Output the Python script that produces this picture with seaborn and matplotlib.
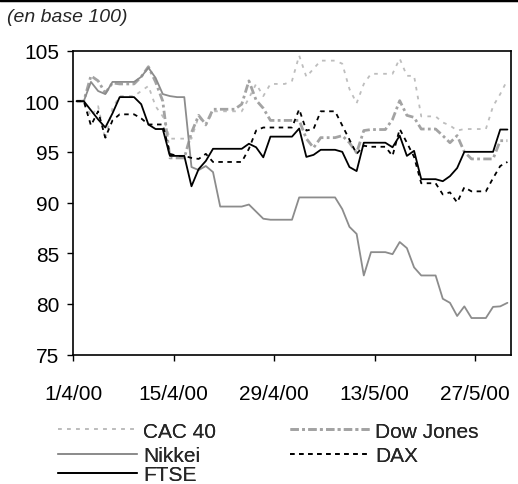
import matplotlib
matplotlib.use("Agg")
from matplotlib import pyplot as plt
from matplotlib.lines import Line2D
import pandas as pd
import seaborn as sns

# jours calendaires (week-ends = valeur reportee)
dates = pd.date_range("2000-04-01", "2000-05-31", freq="D")

cac40 = [100, 100, 98.5, 99.5, 96.2, 99.3, 100.5, 100.5, 100.5, 101.0,
         101.5, 99.5, 98.5, 96.3, 96.3, 96.3, 96.3, 98.5, 97.6, 99.0,
         99.0, 99.0, 99.0, 99.0, 100.3, 101.7, 100.5, 101.7, 101.7, 101.7,
         102.0, 104.5, 102.4, 103.2, 104.0, 104.0, 104.0, 103.7, 101.2, 99.8,
         101.7, 102.7, 102.7, 102.7, 102.7, 104.2, 102.5, 102.5, 98.5, 98.5,
         98.5, 97.9, 97.6, 97.1, 97.25, 97.25, 97.25, 97.25, 99.5, 100.7,
         102.1]
dow_jones = [100, 100, 102.5, 102.0, 100.8, 101.8, 101.7, 101.7, 101.7, 102.4,
             103.4, 101.9, 100.0, 94.4, 94.4, 94.4, 96.9, 98.6, 97.7, 99.2,
             99.2, 99.2, 99.2, 99.7, 102.0, 100.1, 99.3, 98.1, 98.1, 98.1,
             98.1, 98.1, 96.3, 95.4, 96.4, 96.4, 96.4, 96.6, 95.9, 94.9,
             97.1, 97.2, 97.2, 97.2, 98.2, 100.05, 98.6, 98.4, 97.25, 97.25,
             97.25, 96.6, 95.9, 96.6, 95.0, 94.3, 94.3, 94.3, 94.3, 96.1,
             96.1]
nikkei = [100, 100, 101.9, 101.0, 100.7, 101.9, 101.9, 101.9, 101.9, 102.4,
          103.3, 102.3, 100.7, 100.5, 100.4, 100.4, 93.5, 93.2, 93.6, 93.0,
          89.6, 89.6, 89.6, 89.6, 89.8, 89.1, 88.4, 88.3, 88.3, 88.3,
          88.3, 90.5, 90.5, 90.5, 90.5, 90.5, 90.5, 89.35, 87.6, 86.9,
          82.8, 85.1, 85.1, 85.1, 84.9, 86.1, 85.5, 83.6, 82.8, 82.8,
          82.8, 80.5, 80.1, 78.8, 79.75, 78.6, 78.6, 78.6, 79.7, 79.75,
          80.1]
dax = [100, 100, 97.6, 99.0, 96.4, 98.1, 98.7, 98.7, 98.7, 98.3,
       97.7, 97.7, 97.7, 94.8, 94.6, 94.6, 94.4, 94.3, 94.8, 94.0,
       94.0, 94.0, 94.0, 94.0, 95.3, 97.1, 97.4, 97.4, 97.4, 97.4,
       97.4, 99.2, 97.1, 97.25, 99.0, 99.0, 99.0, 97.6, 96.2, 94.8,
       95.6, 95.5, 95.5, 95.5, 94.6, 97.25, 95.9, 94.5, 91.9, 91.9,
       91.9, 90.8, 91.0, 90.0, 91.5, 91.1, 91.1, 91.1, 92.4, 93.6,
       94.0]
ftse = [100, 100, 99.1, 98.2, 97.4, 98.8, 100.4, 100.4, 100.4, 99.7,
        97.7, 97.25, 97.25, 94.6, 94.6, 94.6, 91.6, 93.3, 94.1, 95.3,
        95.3, 95.3, 95.3, 95.3, 95.8, 95.45, 94.46, 96.5, 96.5, 96.5,
        96.5, 97.3, 94.5, 94.7, 95.2, 95.2, 95.2, 95.0, 93.5, 93.1,
        95.9, 95.9, 95.9, 95.9, 95.45, 96.6, 94.6, 95.1, 92.3, 92.3,
        92.3, 92.1, 92.6, 93.4, 95.0, 95.0, 95.0, 95.0, 95.0, 97.2,
        97.2]

indices = ["CAC 40", "Dow Jones", "Nikkei", "DAX", "FTSE"]
tick_dates = ["2000-04-01", "2000-04-15", "2000-04-29", "2000-05-13", "2000-05-27"]
tick_labels = ["1/4/00", "15/4/00", "29/4/00", "13/5/00", "27/5/00"]
y_ticks = [75, 80, 85, 90, 95, 100, 105]

palette = {"CAC 40": "#bdbdbd", "Dow Jones": "#a3a3a3", "Nikkei": "#8c8c8c",
           "DAX": "black", "FTSE": "black"}
dashes = {"CAC 40": (2, 3), "Dow Jones": (3, 1.2, 1, 1.2), "Nikkei": "",
          "DAX": (2.5, 2.5), "FTSE": ""}

sns.set_style("ticks")
plt.rcParams["font.family"] = ["Liberation Sans", "DejaVu Sans"]

df = pd.DataFrame({"date": dates + pd.Timedelta(hours=12),
                   "CAC 40": cac40, "Dow Jones": dow_jones, "Nikkei": nikkei,
                   "DAX": dax, "FTSE": ftse})
df = df.melt(id_vars="date", var_name="indice", value_name="valeur")

fig = plt.figure(figsize=(5.18, 4.85), dpi=100)
ax = fig.add_axes([73 / 518, 1 - 355.5 / 485, 438 / 518, 304 / 485])

sns.lineplot(data=df, x="date", y="valeur", hue="indice", style="indice",
             hue_order=indices, style_order=indices, palette=palette,
             dashes=dashes, legend=False, ax=ax, lw=1.3)
lines = ax.get_lines()
lines[1].set_linewidth(2.0)

ax.set_xlim(pd.Timestamp("2000-04-01"), pd.Timestamp("2000-06-01"))
ax.set_ylim(75, 105)
ax.set_yticks(y_ticks)
ax.set_xticks(pd.to_datetime(tick_dates))
ax.set_xticklabels(tick_labels)
ax.set_xlabel("")
ax.set_ylabel("")
for side in ["left", "right", "top", "bottom"]:
    ax.spines[side].set_visible(True)
    ax.spines[side].set_color("black")
    ax.spines[side].set_linewidth(1.2)
ax.tick_params(axis="both", direction="out", length=4, width=1, colors="black",
               labelsize=15)
ax.tick_params(axis="y", pad=6)
ax.tick_params(axis="x", pad=17)

# trait en haut + sous-titre
fig.add_artist(Line2D([0, 1], [0.997, 0.997], color="black", lw=2.5))
fig.text(7 / 518, 1 - 18 / 485, "(en base 100)", style="italic", fontsize=14,
         va="center", ha="left")

# legende : une entree par position (colonne gauche / droite)
legend_pos = {"CAC 40": (58, 432), "Nikkei": (58, 457), "FTSE": (58, 476),
              "Dow Jones": (290, 432), "DAX": (290, 457)}
for i, name in enumerate(indices):
    px, py = legend_pos[name]
    leg = fig.legend([lines[i]], [name], loc="center left",
                     bbox_to_anchor=(px / 518, 1 - py / 485), frameon=False,
                     fontsize=15, handlelength=3.8, handletextpad=0.3,
                     borderpad=0, borderaxespad=0)
    fig.add_artist(leg)

fig.savefig("out.png", dpi=100)
